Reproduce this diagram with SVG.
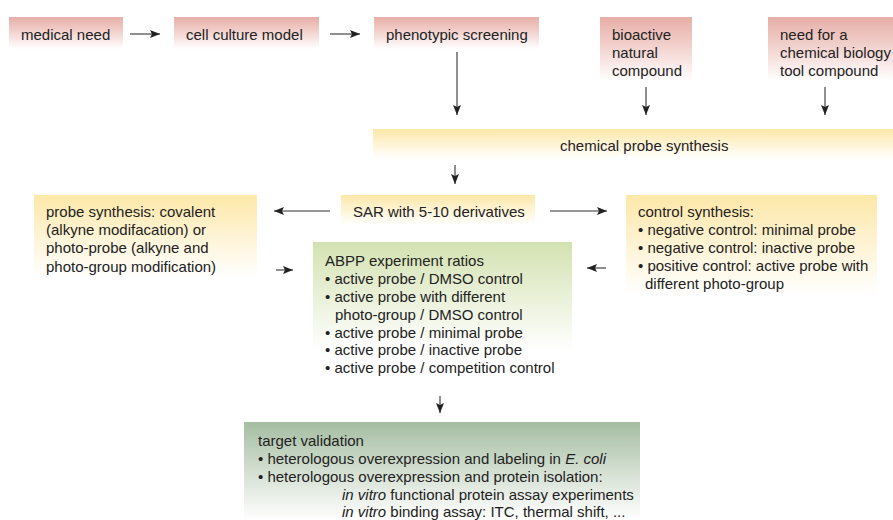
<svg xmlns="http://www.w3.org/2000/svg" width="893" height="520" viewBox="0 0 893 520">
<defs>
<linearGradient id="gPink" x1="0" y1="0" x2="0" y2="1">
<stop offset="0" stop-color="#e7aea7"/><stop offset="0.4" stop-color="#f1cdc8"/><stop offset="1" stop-color="#ffffff"/>
</linearGradient>
<linearGradient id="gYellow" x1="0" y1="0" x2="0" y2="1">
<stop offset="0" stop-color="#fde8a8"/><stop offset="0.4" stop-color="#fef1cc"/><stop offset="1" stop-color="#ffffff"/>
</linearGradient>
<linearGradient id="gGreen" x1="0" y1="0" x2="0" y2="1">
<stop offset="0" stop-color="#d3e2b1"/><stop offset="0.45" stop-color="#e7efd4"/><stop offset="1" stop-color="#ffffff"/>
</linearGradient>
<linearGradient id="gDark" x1="0" y1="0" x2="0" y2="1">
<stop offset="0" stop-color="#a5bda2"/><stop offset="0.5" stop-color="#d3dfd1"/><stop offset="1" stop-color="#ffffff"/>
</linearGradient>
<marker id="ah" viewBox="0 0 10 10" refX="10" refY="5" markerWidth="10" markerHeight="10" markerUnits="userSpaceOnUse" orient="auto">
<path d="M0,1 L10,5 L0,9 L2,5 Z" fill="#222"/>
</marker>
<style>
text { font-family: "Liberation Sans", Arial, sans-serif; font-size: 15px; fill: #222; }
.it { font-style: italic; }
.c line { stroke: #333; stroke-width: 1.1; marker-end: url(#ah); }
</style>
</defs>
<g id="medical-need"><rect x="9" y="17" width="114" height="32" fill="url(#gPink)"/><text x="21" y="40">medical need</text></g>
<g id="cell-culture-model"><rect x="174" y="17" width="145" height="32" fill="url(#gPink)"/><text x="186" y="40">cell culture model</text></g>
<g id="phenotypic-screening"><rect x="374" y="17" width="165" height="32" fill="url(#gPink)"/><text x="386" y="40">phenotypic screening</text></g>
<g id="bioactive-natural-compound"><rect x="600" y="17" width="92" height="64" fill="url(#gPink)"/><text x="612" y="40">bioactive</text><text x="612" y="58">natural</text><text x="612" y="76">compound</text></g>
<g id="tool-compound"><rect x="768" y="17" width="125" height="64" fill="url(#gPink)"/><text x="780" y="40">need for a</text><text x="780" y="58">chemical biology</text><text x="780" y="76">tool compound</text></g>
<g id="chemical-probe-synthesis"><rect x="373" y="129" width="520" height="30" fill="url(#gYellow)"/><text x="560" y="151">chemical probe synthesis</text></g>
<g id="sar"><rect x="341" y="195" width="194" height="30" fill="url(#gYellow)"/><text x="353" y="217">SAR with 5-10 derivatives</text></g>
<g id="probe-synthesis"><rect x="34" y="195" width="223" height="82" fill="url(#gYellow)"/><text x="46" y="217">probe synthesis: covalent</text><text x="46" y="235">(alkyne modifacation) or</text><text x="46" y="253">photo-probe (alkyne and</text><text x="46" y="272">photo-group modification)</text></g>
<g id="control-synthesis"><rect x="626" y="195" width="251" height="100" fill="url(#gYellow)"/><text x="638" y="217">control synthesis:</text><text x="638" y="235">• negative control: minimal probe</text><text x="638" y="253">• negative control: inactive probe</text><text x="638" y="271">• positive control: active probe with</text><text x="645" y="289">different photo-group</text></g>
<g id="abpp"><rect x="313" y="242" width="259" height="108" fill="url(#gGreen)"/><text x="325" y="266">ABPP experiment ratios</text><text x="325" y="284">• active probe / DMSO control</text><text x="325" y="302">• active probe with different</text><text x="335" y="320">photo-group / DMSO control</text><text x="325" y="338">• active probe / minimal probe</text><text x="325" y="355">• active probe / inactive probe</text><text x="325" y="373">• active probe / competition control</text></g>
<g id="target-validation"><rect x="244" y="422" width="396" height="98" fill="url(#gDark)"/><text x="258" y="446">target validation</text><text x="258" y="464">• heterologous overexpression and labeling in <tspan class="it">E. coli</tspan></text><text x="258" y="482">• heterologous overexpression and protein isolation:</text><text x="342" y="500"><tspan class="it">in vitro</tspan> functional protein assay experiments</text><text x="342" y="517"><tspan class="it">in vitro</tspan> binding assay: ITC, thermal shift, ...</text></g>
<g id="connectors" class="c">
<line x1="130" y1="34" x2="160" y2="34"/>
<line x1="330" y1="34" x2="360" y2="34"/>
<line x1="457" y1="52" x2="457" y2="115"/>
<line x1="646" y1="87" x2="646" y2="115"/>
<line x1="825" y1="87" x2="825" y2="115"/>
<line x1="455" y1="165" x2="455" y2="184"/>
<line x1="330" y1="211" x2="274" y2="211"/>
<line x1="550" y1="211" x2="607" y2="211"/>
<line x1="276" y1="270" x2="293" y2="270"/>
<line x1="606" y1="268" x2="587" y2="268"/>
<line x1="440" y1="396" x2="440" y2="413"/>
</g>
</svg>
